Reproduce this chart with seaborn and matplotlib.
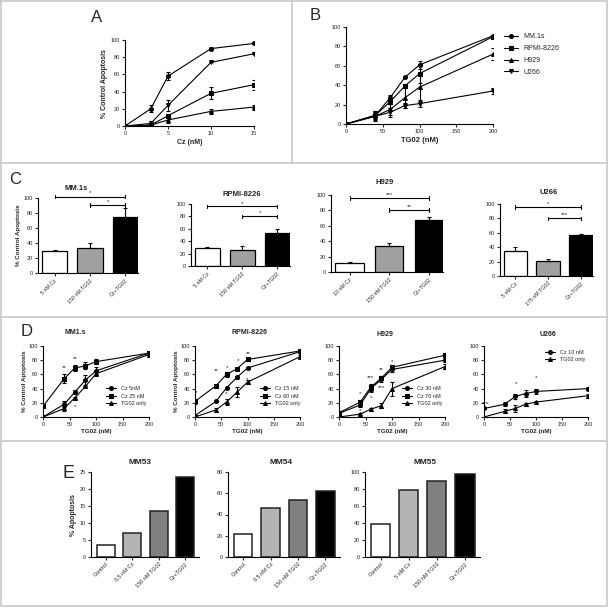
import numpy as np
import matplotlib
matplotlib.use("Agg")
import matplotlib.pyplot as plt
import seaborn as sns

sns.set_style("ticks")
plt.rcParams['font.family'] = ['Liberation Sans', 'DejaVu Sans']
plt.rcParams.update({
    "axes.linewidth": 0.8,
    "xtick.major.size": 2, "ytick.major.size": 2,
    "xtick.major.width": 0.8, "ytick.major.width": 0.8,
    "xtick.major.pad": 1.5, "ytick.major.pad": 1.5,
    "xtick.labelsize": 4, "ytick.labelsize": 4,
    "axes.edgecolor": "black",
})

# ---------------- data ----------------
# A: Cz dose response
a_cz = [0, 3, 5, 10, 15]
a_mm1s = [0, 20, 58, 90, 96]
a_mm1s_err = [0, 4, 5, 2, 0]
a_rpmi = [0, 1, 12, 38, 48]
a_rpmi_err = [0, 1, 2, 7, 6]
a_h929 = [0, 1, 7, 17, 22]
a_h929_err = [0, 1, 3, 3, 3]
a_u266 = [0, 3, 24, 74, 84]
a_u266_err = [0, 1, 6, 0, 0]

# B: TG02 dose response
tg = [0, 40, 60, 80, 100, 200]
b_mm1s = [0, 9, 27, 48, 61, 91]
b_mm1s_err = [0, 3, 3, 0, 4, 1]
b_rpmi = [0, 9, 23, 39, 52, 90]
b_rpmi_err = [0, 4, 6, 2, 10, 1]
b_h929 = [0, 8, 15, 27, 38, 72]
b_h929_err = [0, 4, 6, 11, 13, 6]
b_u266 = [0, 8, 12, 19, 21, 34]
b_u266_err = [0, 5, 5, 3, 3, 3]
b_names = ["MM.1s", "RPMI-8226", "H929", "U266"]

# C: combination bars
c_titles = ["MM.1s", "RPMI-8226", "H929", "U266"]
c_labels = [["5 nM Cz", "150 nM TG02", "Cz+TG02"],
            ["5 nM Cz", "150 nM TG02", "Cz+TG02"],
            ["10 nM Cz", "150 nM TG02", "Cz+TG02"],
            ["5 nM Cz", "175 nM TG02", "Cz+TG02"]]
c_vals = [[29, 33, 75], [29, 26, 53], [12, 34, 68], [35, 21, 57]]
c_errs = [[1.5, 7, 12], [1.5, 6, 6], [1.5, 4, 4], [5, 3, 2]]
c_sig = [[("*", 102), ("*", 91)], [("*", 96), ("*", 80)],
         [("***", 96), ("**", 80)], [("*", 96), ("***", 80)]]

# D: TG02 +/- Cz
d_titles = ["MM1.s", "RPMI-8226", "H929", "U266"]
d_names = [["Cz 5nM", "Cz 25 nM", "TG02 only"],
           ["Cz 15 nM", "Cz 60 nM", "TG02 only"],
           ["Cz 30 nM", "Cz 70 nM", "TG02 only"],
           ["Cz 10 nM", "TG02 only"]]
d_vals = [[[0, 18, 35, 52, 65, 90], [15, 54, 69, 72, 78, 90], [0, 12, 27, 43, 61, 88]],
          [[2, 22, 41, 56, 69, 92], [22, 44, 60, 68, 81, 93], [0, 10, 21, 35, 49, 85]],
          [[5, 17, 40, 53, 67, 80], [6, 21, 42, 55, 70, 87], [0, 4, 11, 16, 40, 71]],
          [[12, 18, 29, 33, 36, 40], [0, 8, 12, 18, 21, 30]]]
d_errs = [[[0, 4, 3, 7, 5, 1], [1, 6, 4, 5, 4, 1], [0, 3, 1, 1, 2, 1]],
          [[1, 1, 1, 2, 2, 1], [4, 1, 3, 1, 2, 1], [1, 3, 4, 7, 3, 2]],
          [[2, 3, 5, 3, 3, 3], [2, 3, 5, 3, 3, 3], [0, 1, 2, 4, 10, 3]],
          [[1, 3, 3, 5, 4, 2], [0, 3, 5, 2, 2, 3]]]
d_stars = [[("**", 40, 70), ("**", 60, 82), ("*", 60, 15)],
           [("*", 2, 35), ("**", 41, 66), ("*", 62, 70), ("*", 82, 79), ("**", 101, 90),
            ("*", 60, 33), ("*", 100, 53)],
           [("*", 40, 33), ("***", 60, 55), ("**", 80, 67), ("*", 100, 78),
            ("*", 60, 27), ("***", 80, 42), ("*", 40, 9)],
           [("***", 2, 19), ("*", 61, 47), ("*", 100, 56)]]

# E: patient samples
e_titles = ["MM53", "MM54", "MM55"]
e_labels = [["Control", "0.5 nM Cz", "150 nM TG02", "Cz+TG02"],
            ["Control", "0.5 nM Cz", "150 nM TG02", "Cz+TG02"],
            ["Control", "5 nM Cz", "150 nM TG02", "Cz+TG02"]]
e_vals = [[3.4, 7.2, 13.6, 23.5], [22, 46, 54, 62], [39, 79, 90, 98]]
e_ymax = [25, 80, 100]

# ---------------- figure ----------------
W, H = 609, 608
fig = plt.figure(figsize=(W / 100, H / 100), dpi=100)


def box(x0, y0, x1, y1):
    return fig.add_axes([x0 / W, 1 - y1 / H, (x1 - x0) / W, (y1 - y0) / H])


def ftext(x, y, s, **kw):
    fig.text(x / W, 1 - y / H, s, **kw)


def fline(xs, ys):
    fig.add_artist(plt.Line2D([x / W for x in xs], [1 - y / H for y in ys],
                              transform=fig.transFigure, color="#c8c8c8", lw=1.2))


# panel frames
fline([1, 607, 607, 1, 1], [1, 1, 606, 606, 1])
fline([1, 607], [163, 163])
fline([1, 607], [317, 317])
fline([1, 607], [441, 441])
fline([292, 292], [1, 163])

markers = ["o", "s", "^", "v"]


def series(ax, x, y, err, m, label=None):
    sns.lineplot(x=x, y=y, marker=m, color="black", markersize=2.8, linewidth=0.8,
                 markeredgecolor="black", label=label, ax=ax, legend=False)
    ax.errorbar(x, y, yerr=err, fmt="none", ecolor="black", elinewidth=0.8,
                capsize=1.5, capthick=0.8)


def style(ax, xlim, ylim, xticks, yticks):
    ax.set_xlim(*xlim)
    ax.set_ylim(*ylim)
    ax.set_xticks(xticks)
    ax.set_yticks(yticks)
    sns.despine(ax=ax)


# ---- A ----
ax = box(125, 40, 254, 126)
for y, e, m in zip([a_mm1s, a_rpmi, a_h929, a_u266],
                   [a_mm1s_err, a_rpmi_err, a_h929_err, a_u266_err], markers):
    series(ax, a_cz, y, e, m)
style(ax, (0, 15), (0, 100), [0, 5, 10, 15], range(0, 101, 20))
ax.set_xlabel("Cz (nM)", fontsize=5, fontweight="bold", labelpad=2)
ax.set_ylabel("% Control Apoptosis", fontsize=5, fontweight="bold", labelpad=2)
ftext(97, 18, "A", fontsize=12, ha="center", va="center")

# ---- B ----
ax = box(346, 27, 493, 124)
for y, e, m, n in zip([b_mm1s, b_rpmi, b_h929, b_u266],
                      [b_mm1s_err, b_rpmi_err, b_h929_err, b_u266_err], markers, b_names):
    series(ax, tg, y, e, m, label=n)
style(ax, (0, 200), (0, 100), [0, 50, 100, 150, 200], range(0, 101, 20))
ax.set_xlabel("TG02 (nM)", fontsize=5.5, fontweight="bold", labelpad=2)
ax.legend(loc="upper left", bbox_to_anchor=(1.03, 1.0), frameon=False, fontsize=5,
          handlelength=2, labelspacing=0.7)
ftext(315, 15, "B", fontsize=12, ha="center", va="center")

# ---- C ----
c_boxes = [(38, 198, 138, 273), (191, 204, 290, 266), (331, 195, 443, 272), (500, 204, 593, 276)]
c_tpos = [(76, 188), (242, 194), (385, 182), (549, 192)]
c_colors = ["white", "#a0a0a0", "black"]
for i in range(4):
    ax = box(*c_boxes[i])
    labs = c_labels[i]
    sns.barplot(x=labs, y=c_vals[i], hue=labs, hue_order=labs, order=labs,
                palette=dict(zip(labs, c_colors)), legend=False, edgecolor="black",
                linewidth=0.9, width=0.72, ax=ax)
    ax.errorbar(range(3), c_vals[i], yerr=[np.zeros(3), c_errs[i]], fmt="none",
                ecolor="black", elinewidth=0.8, capsize=1.5, capthick=0.8)
    ax.set_xlim(-0.47, 2.36)
    ax.set_ylim(0, 100)
    ax.set_yticks(range(0, 101, 20))
    ax.set_xticks(range(3))
    ax.set_xticklabels(labs, rotation=45, ha="right", rotation_mode="anchor", fontsize=3.8)
    sns.despine(ax=ax)
    ax.set_xlabel("")
    ax.set_ylabel("% Control Apoptosis" if i == 0 else "", fontsize=4.5, fontweight="bold", labelpad=2)
    for (s, yy), x0 in zip(c_sig[i], [0, 1]):
        ax.plot([x0, 2], [yy, yy], color="black", lw=0.8, clip_on=False)
        for xx in (x0, 2):
            ax.plot([xx, xx], [yy - 2.5, yy + 2.5], color="black", lw=0.8, clip_on=False)
        ax.text((x0 + 2) / 2, yy + 1.5, s, ha="center", va="bottom", fontsize=4.5)
    ftext(*c_tpos[i], c_titles[i], fontsize=5.5, fontweight="bold", ha="center", va="center")
ftext(15, 180, "C", fontsize=12, ha="center", va="center")

# ---- D ----
d_boxes = [(43, 346, 149, 417), (195, 346, 300, 417), (339, 346, 445, 417), (484, 346, 588, 417)]
d_tpos = [(75, 333), (250, 333), (385, 334), (548, 334)]
d_mk = [["o", "s", "^"], ["o", "s", "^"], ["o", "s", "^"], ["o", "^"]]
for i in range(4):
    ax = box(*d_boxes[i])
    for y, e, m, n in zip(d_vals[i], d_errs[i], d_mk[i], d_names[i]):
        series(ax, tg, y, e, m, label=n)
    style(ax, (0, 200), (0, 100), [0, 50, 100, 150, 200], range(0, 101, 20))
    ax.set_xlabel("TG02 (nM)", fontsize=4.5, fontweight="bold", labelpad=1.5)
    if i < 2:
        ax.set_ylabel("% Control Apoptosis", fontsize=4.5, fontweight="bold", labelpad=1)
    for s, xx, yy in d_stars[i]:
        ax.text(xx, yy, s, ha="center", va="center", fontsize=4.5, clip_on=False)
    if i == 3:
        ax.legend(loc="upper right", bbox_to_anchor=(1.02, 1.02), frameon=False, fontsize=4,
                  handlelength=1.8, labelspacing=0.5)
    else:
        ax.legend(loc="lower right", bbox_to_anchor=(1.05 if i == 1 else 1.02, 0.08),
                  frameon=False, fontsize=4, handlelength=1.8, labelspacing=0.5)
    ftext(*d_tpos[i], d_titles[i], fontsize=5, fontweight="bold", ha="center", va="center")
ftext(27, 332, "D", fontsize=12, ha="center", va="center")

# ---- E ----
e_boxes = [(91, 472, 199, 557), (228, 472, 340, 557), (365, 472, 480, 557)]
e_tpos = [(140, 463), (281, 463), (425, 463)]
e_colors = ["white", "#b4b4b4", "#808080", "black"]
for i in range(3):
    ax = box(*e_boxes[i])
    labs = e_labels[i]
    sns.barplot(x=labs, y=e_vals[i], hue=labs, hue_order=labs, order=labs,
                palette=dict(zip(labs, e_colors)), legend=False, edgecolor="#222222",
                linewidth=1.1, width=0.68, ax=ax)
    ax.set_xlim(-0.55, 3.53)
    ax.set_ylim(0, e_ymax[i])
    ax.set_yticks(np.arange(0, e_ymax[i] + 1, 5 if i == 0 else 20))
    ax.set_xticks(range(4))
    ax.set_xticklabels(labs, rotation=45, ha="right", rotation_mode="anchor", fontsize=4)
    sns.despine(ax=ax)
    ax.set_xlabel("")
    ax.set_ylabel("% Apoptosis" if i == 0 else "", fontsize=5, fontweight="bold", labelpad=2)
    ftext(*e_tpos[i], e_titles[i], fontsize=6, fontweight="bold", ha="center", va="center")
ftext(68, 473, "E", fontsize=13, ha="center", va="center")

fig.savefig("out.png", dpi=100)
